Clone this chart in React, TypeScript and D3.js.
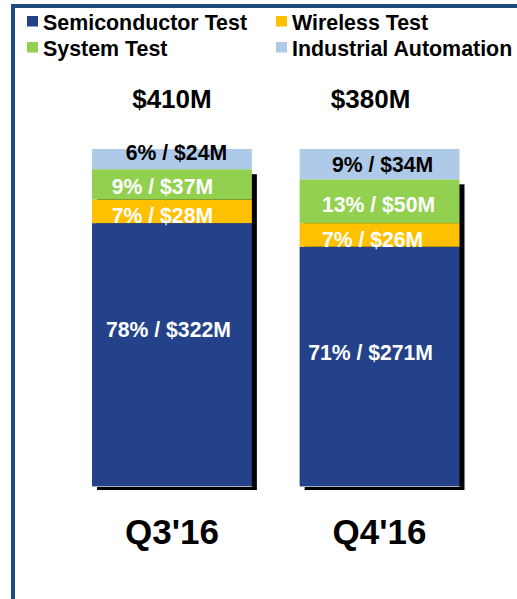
import React from "react";
import * as d3 from "d3";

// ---- data ----
const categories = ["Q3'16", "Q4'16"];
const totalLabels = ["$410M", "$380M"];
const seriesNames = ["Semiconductor Test", "Wireless Test", "System Test", "Industrial Automation"];
const semiconductorPct = [78, 71];
const semiconductorUsd = [322, 271];
const wirelessPct = [7, 7];
const wirelessUsd = [28, 26];
const systemPct = [9, 13];
const systemUsd = [37, 50];
const industrialPct = [6, 9];
const industrialUsd = [24, 34];

// ---- layout / style ----
const W = 517;
const H = 599;
const FONT = "'Liberation Sans', Arial, Helvetica, sans-serif";
const colors = ["#23428A", "#FFC000", "#92D050", "#AFCAE8"];
const labelColors = ["#FFFFFF", "#FFFFFF", "#FFFFFF", "#000000"];
// label nudges [category][series] = [dx, dy] relative to segment centre
const labelNudge = [
  [[-3.5, -17.5], [-9.5, 12], [-9.5, 10], [4.5, 1]],
  [[-9, -6.5], [-7, 12], [-1, 11], [3, 8]],
];
const totalNudge = [0, -9];

const keys = ["semi", "wireless", "system", "industrial"];
const rows = categories.map((c, i) => ({
  cat: c,
  semi: semiconductorPct[i],
  wireless: wirelessPct[i],
  system: systemPct[i],
  industrial: industrialPct[i],
}));
const usd = [semiconductorUsd, wirelessUsd, systemUsd, industrialUsd];
const pct = [semiconductorPct, wirelessPct, systemPct, industrialPct];

export default function App() {
  const x = d3.scaleBand<string>().domain(categories).range([92, 459.5]).paddingInner(0.23).paddingOuter(0);
  const y = d3.scaleLinear().domain([0, 1]).range([486, 149]);
  const stacked = d3.stack<any>().keys(keys).offset(d3.stackOffsetExpand)(rows);
  const bw = x.bandwidth();

  return (
    <svg width={W} height={H} style={{ position: "absolute", left: 0, top: 0, background: "#fff" }} fontFamily={FONT}>
      {/* frame */}
      <line x1={11} x2={W} y1={6} y2={6} stroke="#1F4B80" strokeWidth={4} />
      <line x1={13} x2={13} y1={4} y2={H} stroke="#1F4B80" strokeWidth={4} />

      {/* legend */}
      {seriesNames.map((name, i) => {
        const col = i === 0 || i === 2 ? 0 : 1;
        const row = i < 2 ? 0 : 1;
        const lx = col === 0 ? 27 : 276;
        const ly = row === 0 ? 16 : 42;
        return (
          <g key={name}>
            <rect x={lx} y={ly} width={11} height={10.5} fill={colors[i]} />
            <text x={lx + 16} y={ly + 13.5} fontSize={21.4} fontWeight="bold" fill="#000">{name}</text>
          </g>
        );
      })}

      {/* shadows */}
      {categories.map((c, ci) => {
        const top = y(stacked[2][ci][1]);
        return (
          <rect key={"sh" + c} x={(x(c) as number) + 5} y={top + 5} width={bw} height={y(0) - top - 1} fill="#000" />
        );
      })}

      {/* bars */}
      {stacked.map((s, si) =>
        s.map((d, ci) => (
          <rect
            key={si + "-" + ci}
            x={x(categories[ci]) as number}
            y={y(d[1])}
            width={bw}
            height={y(d[0]) - y(d[1])}
            fill={colors[si]}
          />
        ))
      )}
      {categories.map((c) => (
        <line key={"bl" + c} x1={x(c) as number} x2={(x(c) as number) + bw} y1={486.5} y2={486.5} stroke="#A9B3C6" strokeWidth={1} />
      ))}

      {/* segment labels */}
      {stacked.map((s, si) =>
        s.map((d, ci) => {
          const cx = (x(categories[ci]) as number) + bw / 2 + labelNudge[ci][si][0];
          const cy = (y(d[0]) + y(d[1])) / 2 + labelNudge[ci][si][1];
          return (
            <text key={"l" + si + "-" + ci} x={cx} y={cy} textAnchor="middle" fontSize={21.2} fontWeight="bold" fill={labelColors[si]}>
              {`${pct[si][ci]}% / $${usd[si][ci]}M`}
            </text>
          );
        })
      )}

      {/* totals */}
      {categories.map((c, ci) => (
        <text key={"t" + c} x={(x(c) as number) + bw / 2 + totalNudge[ci]} y={108} textAnchor="middle" fontSize={26} fontWeight="bold" fill="#000">
          {totalLabels[ci]}
        </text>
      ))}

      {/* category labels */}
      {categories.map((c) => (
        <text key={"c" + c} x={(x(c) as number) + bw / 2} y={544} textAnchor="middle" fontSize={35} fontWeight="bold" fill="#000">
          {c}
        </text>
      ))}
    </svg>
  );
}
